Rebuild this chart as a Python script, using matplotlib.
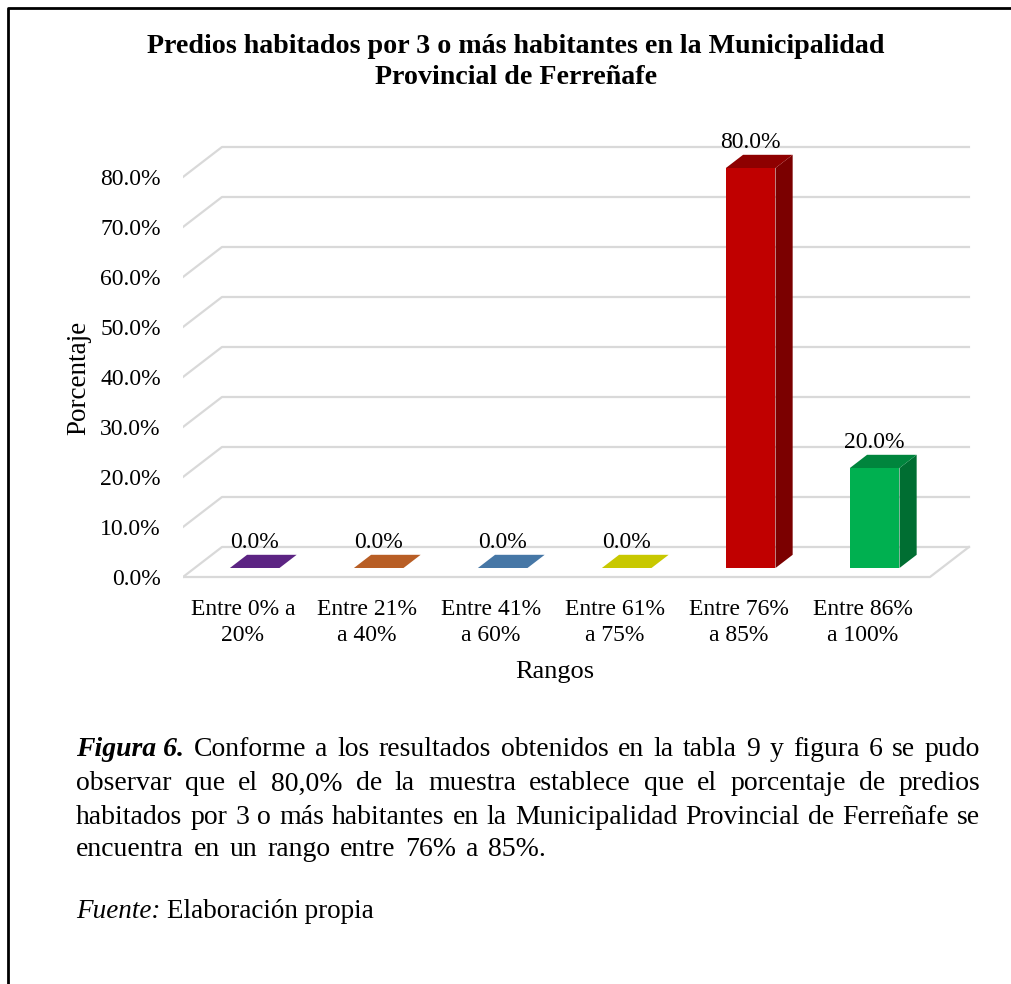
import matplotlib.pyplot as plt
from matplotlib.patches import Polygon
from matplotlib.lines import Line2D

# datos
rangos = ["Entre 0% a\n20%", "Entre 21%\na 40%", "Entre 41%\na 60%",
          "Entre 61%\na 75%", "Entre 76%\na 85%", "Entre 86%\na 100%"]
porcentajes = [0.0, 0.0, 0.0, 0.0, 80.0, 20.0]
colores = ["#5C2483", "#B85E25", "#4677A6", "#C8C800", "#C00000", "#00B050"]
colores_lado = ["#3E1759", "#7D3F18", "#2F5070", "#8A8A00", "#7B0000", "#006E32"]
colores_tope = ["#4D1E6E", "#9C501F", "#3B648C", "#A8A800", "#8E0000", "#00853D"]
y_ticks = [0, 10, 20, 30, 40, 50, 60, 70, 80]

plt.rcParams['font.family'] = ['Liberation Serif', 'DejaVu Serif']

W, H = 1011, 984
fig = plt.figure(figsize=(W / 100, H / 100), dpi=100)

# eje: 124 px por categoria, 5 px por 1%
x0_px, ux = 243.0, 124.0
y0_px, uy = 577.0, 5.0
xmin, xmax = -0.484, 6.1
ymin, ymax = -3.0, 90.0
left = x0_px + xmin * ux
right = x0_px + xmax * ux
top = y0_px - ymax * uy
bottom = y0_px - ymin * uy
ax = fig.add_axes([left / W, 1 - bottom / H, (right - left) / W, (bottom - top) / H])
ax.set_xlim(xmin, xmax)
ax.set_ylim(ymin, ymax)
for s in ax.spines.values():
    s.set_visible(False)

# profundidad 3D
dx, dy = 0.3145, 6.0
f0, f1 = 0.30, 0.44
ancho = 0.40
floor_r = 5.54
grid_c = "#D9D9D9"

for v in y_ticks:
    ax.add_line(Line2D([xmin, xmin + dx, floor_r + dx], [v, v + dy, v + dy],
                       color=grid_c, lw=1.6, zorder=1))
ax.add_line(Line2D([xmin, floor_r, floor_r + dx], [0, 0, dy],
                   color=grid_c, lw=1.6, zorder=1))

for i, (v, c, cl, ct) in enumerate(zip(porcentajes, colores, colores_lado, colores_tope)):
    xl = i - ancho / 2 + f0 * dx
    xr = i + ancho / 2 + f0 * dx
    yb = f0 * dy
    ox, oy = f1 * dx, f1 * dy
    if v > 0:
        ax.add_patch(Polygon([(xl, yb), (xr, yb), (xr, yb + v), (xl, yb + v)],
                             closed=True, fc=c, ec="none", zorder=3))
        ax.add_patch(Polygon([(xr, yb), (xr + ox, yb + oy), (xr + ox, yb + v + oy), (xr, yb + v)],
                             closed=True, fc=cl, ec="none", zorder=3))
        ax.add_patch(Polygon([(xl, yb + v), (xr, yb + v), (xr + ox, yb + v + oy), (xl + ox, yb + v + oy)],
                             closed=True, fc=ct, ec="none", zorder=3))
    else:
        ax.add_patch(Polygon([(xl, yb), (xr, yb), (xr + ox, yb + oy), (xl + ox, yb + oy)],
                             closed=True, fc=c, ec="none", zorder=3))
    ax.annotate(f"{v:.1f}%", (i + f0 * dx, yb + v + oy), xytext=(0, 9),
                textcoords="offset points", ha="center", va="center",
                fontsize=17, color="black", zorder=4)

ax.set_yticks(y_ticks)
ax.set_yticklabels([f"{t:.1f}%" for t in y_ticks])
ax.set_xticks(range(len(rangos)))
ax.set_xticklabels(rangos, linespacing=1.3)
ax.tick_params(axis="y", length=0, pad=16, labelsize=17, labelcolor="black")
ax.tick_params(axis="x", length=0, pad=5, labelsize=17, labelcolor="black")
ax.set_ylabel("Porcentaje", fontsize=19.5)
ax.set_xlabel("Rangos", fontsize=19)
ax.xaxis.set_label_coords((555 - left) / (right - left), -(661 - bottom) / (bottom - top))
ax.yaxis.set_label_coords((79 - left) / (right - left), (bottom - 378) / (bottom - top))
ax.yaxis.label.set_va("center")

fig.text(516 / W, 1 - 62 / H, "Predios habitados por 3 o más habitantes en la Municipalidad\nProvincial de Ferreñafe",
         ha="center", va="center", fontsize=20.2, fontweight="bold", linespacing=1.3)

# marco
fig.add_artist(Line2D([8 / W, 8 / W, 1.0], [0.0, 1 - 8 / H, 1 - 8 / H],
                      transform=fig.transFigure, color="black", lw=2))

# pie de figura (justificado)
lineas = [
    "Conforme a los resultados obtenidos en la tabla 9 y figura 6 se pudo",
    "observar que el 80,0% de la muestra establece que el porcentaje de predios",
    "habitados por 3 o más habitantes en la Municipalidad Provincial de Ferreñafe se",
    "encuentra en un rango entre 76% a 85%.",
]
fs = 20
x_ini, x_fin = 76, 980
ys = [750, 784, 817, 850]
fig.canvas.draw()
rend = fig.canvas.get_renderer()


def ancho_px(t):
    return t.get_window_extent(renderer=rend).width


esp_normal = fs * 0.25 * 100 / 72
for k, (linea, yy) in enumerate(zip(lineas, ys)):
    palabras = linea.split(" ")
    items = []
    if k == 0:
        items.append(("Figura 6.", dict(fontweight="bold", fontstyle="italic")))
    items += [(p, {}) for p in palabras]
    textos = [fig.text(0, 1 - yy / H, p, fontsize=fs, va="center", ha="left", **kw) for p, kw in items]
    anchos = [ancho_px(t) for t in textos]
    if k < 3:
        esp = max((x_fin - x_ini - sum(anchos)) / (len(textos) - 1), 2)
    else:
        esp = esp_normal * 1.4
    x = x_ini
    for t, a in zip(textos, anchos):
        t.set_x(x / W)
        x += a + esp

t1 = fig.text(x_ini / W, 1 - 911 / H, "Fuente:", fontsize=19.5, fontstyle="italic", va="center")
x2 = x_ini + ancho_px(t1) + esp_normal
fig.text(x2 / W, 1 - 911 / H, "Elaboración propia", fontsize=19.5, va="center")

fig.savefig("out.png", dpi=100)
